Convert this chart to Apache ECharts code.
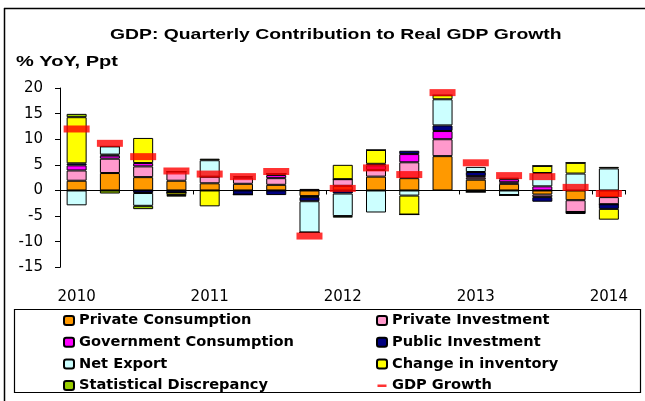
<!DOCTYPE html>
<html>
<head>
<meta charset="utf-8">
<script src="https://cdn.jsdelivr.net/npm/echarts@6/dist/echarts.min.js"></script>
<style>html,body{margin:0;padding:0;background:#fff}#c{width:645px;height:401px}</style>
</head>
<body>
<div id="c"></div>
<script>
const categories = ['2010','2010Q2','2010Q3','2010Q4','2011','2011Q2','2011Q3','2011Q4','2012','2012Q2','2012Q3','2012Q4','2013','2013Q2','2013Q3','2013Q4','2014'];
const privateConsumption   = [1.9, 3.4, 2.6, 1.9, 1.4, 1.3, 1.1, -1.1, 0.9, 2.7, 2.4, 6.7, 2.1, 1.3, -0.8, -1.9, -1.3];
const privateInvestment    = [2.0, 2.8, 2.1, 1.8, 1.3, 1.2, 1.3, -0.2, 1.3, 1.3, 3.1, 3.3, 0.4, 0.3, -0.5, -2.3, -1.4];
const governmentConsumption= [1.0, 0.6, 0.65, 0, 0, 0.3, 0.6, 0.3, 0, 0.9, 1.6, 1.6, 0.3, 0.6, 0.8, 0, 0];
const publicInvestment     = [0.4, 0.2, -0.5, -0.4, 0, -0.8, -0.9, -0.8, -0.6, 0.3, 0.65, 1.1, 0.8, 0.3, -0.9, -0.4, -0.9];
const netExport            = [-2.9, 1.6, -2.5, 0, 3.2, 0, 0.3, -6.1, -4.4, -4.3, -1.0, 5.1, 1.0, -0.9, 2.6, 3.3, 4.3];
const changeInInventory    = [9.0, 0, 4.9, -0.5, -3.1, 0, 0, 0, 2.8, 2.7, -3.7, 0.8, -0.3, 0, 1.4, 2.1, -2.1];
const statDiscrepancy      = [0.65, -0.6, -0.65, -0.3, 0.3, 0, 0, 0, -0.3, 0, 0, 0, 0, 0, 0, 0, 0.3];
const gdpGrowth            = [12.0, 9.2, 6.6, 3.8, 3.2, 2.7, 3.7, -8.9, 0.4, 4.4, 3.1, 19.1, 5.4, 2.9, 2.7, 0.6, -0.6];
const yTicks = [-15, -10, -5, 0, 5, 10, 15, 20];

const ARIAL = '"Liberation Sans", Arial, sans-serif';
const WIDE = '"DejaVu Sans", Verdana, sans-serif';
const barDefs = [
  ['Private Consumption', privateConsumption, '#ff9900'],
  ['Private Investment', privateInvestment, '#ff99cc'],
  ['Government Consumption', governmentConsumption, '#ff00ff'],
  ['Public Investment', publicInvestment, '#000080'],
  ['Net Export', netExport, '#ccffff'],
  ['Change in inventory', changeInInventory, '#ffff00'],
  ['Statistical Discrepancy', statDiscrepancy, '#99cc00']
];
const series = barDefs.map(([name, data, color]) => ({
  name, type: 'bar', stack: 'total', data, barWidth: 20,
  itemStyle: { color, borderColor: '#000', borderWidth: 1 },
  emphasis: { disabled: true }
}));
series.push({
  name: 'GDP Growth', type: 'scatter', data: gdpGrowth,
  symbol: 'rect', symbolSize: [26, 7], z: 5,
  itemStyle: { color: '#ff0000' }
});

const legendText = { fontSize: 14.6, fontWeight: 'bold', color: '#000', fontFamily: WIDE, lineHeight: 15 };
const dash = 'path://M0,0L0.01,0M0,3.5h9v2.5h-9zM9,9L9.01,9';

const chart = echarts.init(document.getElementById('c'));
chart.setOption({
  animation: false,
  backgroundColor: '#fff',
  graphic: [
    { type: 'text', x: 110, y: 35, scaleX: 1.29, style: { text: 'GDP: Quarterly Contribution to Real GDP Growth', font: 'bold 15px ' + ARIAL, fill: '#000', verticalAlign: 'middle' } },
    { type: 'text', x: 16, y: 62, scaleX: 1.43, style: { text: '% YoY, Ppt', font: 'bold 14px ' + ARIAL, fill: '#000', verticalAlign: 'middle' } },
    { type: 'line', shape: { x1: 4, y1: 8.5, x2: 645, y2: 8.5 }, style: { stroke: '#000', lineWidth: 1.5 } },
    { type: 'line', shape: { x1: 4.5, y1: 8, x2: 4.5, y2: 401 }, style: { stroke: '#000', lineWidth: 1.5 } },
    { type: 'rect', shape: { x: 14.5, y: 309.5, width: 626, height: 83 }, style: { fill: 'none', stroke: '#000', lineWidth: 1.2 } }
  ],
  grid: { left: 60, right: 19.5, top: 88, bottom: 133.7 },
  xAxis: [
    {
      type: 'category', data: categories,
      axisLine: { onZero: true, lineStyle: { color: '#000', width: 1 } },
      axisTick: { show: true, interval: 3, length: 4, lineStyle: { color: '#000' } },
      axisLabel: { show: false }
    },
    {
      type: 'category', data: categories, position: 'bottom',
      axisLine: { show: false, onZero: false }, axisTick: { show: false },
      axisLabel: { interval: 3, margin: 22, fontSize: 15, color: '#000', fontFamily: WIDE,
        formatter: v => v.slice(0, 4) }
    }
  ],
  yAxis: {
    type: 'value', min: yTicks[0], max: yTicks[yTicks.length - 1], interval: 5,
    axisLine: { show: true, lineStyle: { color: '#000', width: 1 } },
    axisTick: { show: true, length: 5, lineStyle: { color: '#000' } },
    axisLabel: { fontSize: 15, color: '#000', fontFamily: WIDE, margin: 17 },
    splitLine: { show: false }
  },
  legend: [
    {
      orient: 'vertical', left: 58, top: 308, itemWidth: 10, itemHeight: 9, itemGap: 6.7,
      textStyle: legendText, selectedMode: false,
      data: ['Private Consumption', 'Government Consumption', 'Net Export', 'Statistical Discrepancy']
    },
    {
      orient: 'vertical', left: 371, top: 308, itemWidth: 10, itemHeight: 9, itemGap: 6.7,
      textStyle: legendText, selectedMode: false,
      data: ['Private Investment', 'Public Investment', 'Change in inventory', { name: 'GDP Growth', icon: dash }]
    }
  ],
  series
});
</script>
</body>
</html>
